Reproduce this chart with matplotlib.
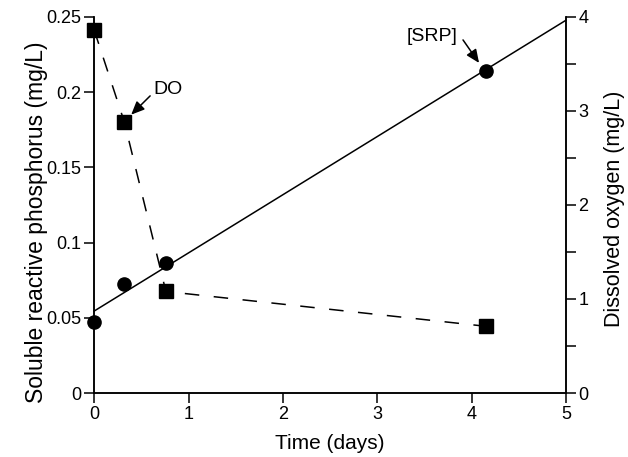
import matplotlib.pyplot as plt
import numpy as np

plt.rcParams['font.family'] = ['Liberation Sans', 'DejaVu Sans']

# sampling times (days)
time_days = [0, 0.32, 0.76, 4.15]
srp = [0.0474, 0.0723, 0.0864, 0.214]   # mg/L
do = [3.86, 2.88, 1.08, 0.71]           # mg/L

# linear fit of SRP over the full time range
slope, intercept = np.polyfit(time_days, srp, 1)
fit_x = np.array([0, 5])
fit_y = intercept + slope * fit_x

fig = plt.figure(figsize=(6.28, 4.57), dpi=100)
ax = fig.add_axes([0.150, 0.140, 0.751, 0.823])
ax2 = ax.twinx()

ax.plot(fit_x, fit_y, color='black', lw=1.1, clip_on=False)
ax.plot(time_days, srp, 'o', color='black', ms=9.5, clip_on=False, zorder=5)
ax2.plot(time_days, do, color='black', lw=1.1, ls=(0, (9.5, 9.5)), marker='s',
         ms=9.5, clip_on=False, zorder=5)

ax.set_xlim(0, 5)
ax.set_ylim(0, 0.25)
ax2.set_ylim(0, 4)
ax.set_xticks([0, 1, 2, 3, 4, 5])
ax.set_yticks([0, 0.05, 0.1, 0.15, 0.2, 0.25])
ax.set_yticklabels(['0', '0.05', '0.1', '0.15', '0.2', '0.25'])
ax2.set_yticks([0, 1, 2, 3, 4])
ax2.set_yticks(np.arange(0.5, 4, 1), minor=True)

for a in (ax, ax2):
    a.spines['top'].set_visible(False)
    for s in a.spines.values():
        s.set_linewidth(1.1)
    a.tick_params(direction='out', length=7, width=1.1, labelsize=13, pad=2)
    a.tick_params(which='minor', direction='out', length=7, width=1.1)

ax.set_xlabel('Time (days)', fontsize=15, labelpad=8)
ax.set_ylabel('Soluble reactive phosphorus (mg/L)', fontsize=16.5)
ax.yaxis.set_label_coords(-0.098, 0.455)
ax2.set_ylabel('Dissolved oxygen (mg/L)', fontsize=15.5)
ax2.yaxis.set_label_coords(1.08, 0.49)

arrow = dict(arrowstyle='-|>,head_length=0.8,head_width=0.35', color='black',
             lw=1.1, shrinkA=0, shrinkB=0)
ax2.text(0.625, 3.23, 'DO', fontsize=14, ha='left', va='center')
ax2.annotate('', xy=(0.392, 2.96), xytext=(0.593, 3.16), arrowprops=arrow)
ax.text(3.856, 0.237, '[SRP]', fontsize=14, ha='right', va='center')
ax.annotate('', xy=(4.08, 0.2194), xytext=(3.91, 0.2347), arrowprops=arrow)

fig.savefig('out.png', dpi=100)
